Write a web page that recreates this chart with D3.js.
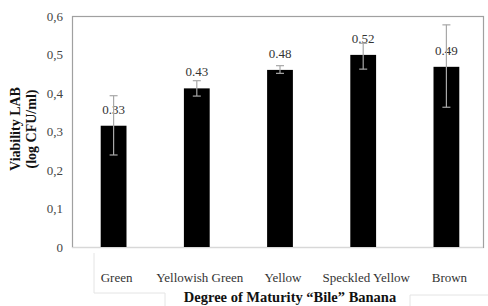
<!DOCTYPE html>
<html>
<head>
<meta charset="utf-8">
<script src="https://cdn.jsdelivr.net/npm/d3@7"></script>
<style>
  body { margin: 0; background: #fff; }
  svg { display: block; font-family: "Liberation Serif", serif; }
</style>
</head>
<body>
<div id="vis"></div>
<script>
const FRAME_WIDTH = 488;
const FRAME_HEIGHT = 306;
const SERIF = "Liberation Serif, serif";

// data
const categories = ["Green", "Yellowish Green", "Yellow", "Speckled Yellow", "Brown"];
const means = [0.315, 0.412, 0.46, 0.499, 0.468];
const errLow = [0.239, 0.392, 0.451, 0.462, 0.363];
const errHigh = [0.393, 0.432, 0.471, 0.529, 0.577];
const valueLabels = ["0.33", "0.43", "0.48", "0.52", "0.49"];
const yTicks = [0, 0.1, 0.2, 0.3, 0.4, 0.5, 0.6];

const data = categories.map((c, i) => ({
  cat: c, v: means[i], lo: errLow[i], hi: errHigh[i], lab: valueLabels[i]
}));

const PLOT = {left: 72, right: 488, top: 16, bottom: 247};
const BOX_RIGHT = 483;

const svg = d3.select("#vis").append("svg")
    .attr("width", FRAME_WIDTH)
    .attr("height", FRAME_HEIGHT);

const X_SCALE = d3.scaleBand()
    .domain(categories)
    .range([PLOT.left, PLOT.right])
    .paddingInner(0.69)
    .paddingOuter(0.345);

const Y_SCALE = d3.scaleLinear()
    .domain([0, 0.6])
    .range([PLOT.bottom, PLOT.top]);

// faint boxes round the x labels (from the source layout)
svg.append("path")
    .attr("d", "M94,253 V293 H165 V306 M410,306 V295 H488")
    .attr("fill", "none").attr("stroke", "#e4e4e4").attr("stroke-width", 1);

// plot frame
svg.append("rect")
    .attr("x", PLOT.left + 0.5).attr("y", PLOT.top + 0.5)
    .attr("width", BOX_RIGHT - PLOT.left).attr("height", PLOT.bottom - PLOT.top)
    .attr("fill", "none").attr("stroke", "#a0a0a0").attr("stroke-width", 1.2);
svg.append("line")
    .attr("x1", PLOT.left).attr("x2", BOX_RIGHT)
    .attr("y1", PLOT.bottom + 0.5).attr("y2", PLOT.bottom + 0.5)
    .attr("stroke", "#d8d8d8");

// y axis
const yAxis = svg.append("g")
    .attr("transform", "translate(" + PLOT.left + ",0)")
    .call(d3.axisLeft(Y_SCALE).tickValues(yTicks).tickSize(0).tickPadding(9)
      .tickFormat(d => d3.format(".1~f")(d).replace(".", ",")))
    .attr("font-family", SERIF).attr("font-size", 13);
yAxis.select(".domain").remove();
yAxis.selectAll("text").attr("fill", "#444");

// bars
svg.selectAll("rect.bar")
    .data(data).enter().append("rect")
    .attr("class", "bar")
    .attr("x", d => X_SCALE(d.cat))
    .attr("width", X_SCALE.bandwidth())
    .attr("y", d => Y_SCALE(d.v))
    .attr("height", d => Y_SCALE(0) - Y_SCALE(d.v))
    .attr("fill", "#000");

// value labels
svg.selectAll("text.val")
    .data(data).enter().append("text")
    .attr("class", "val")
    .attr("x", d => X_SCALE(d.cat) + X_SCALE.bandwidth() / 2)
    .attr("y", d => Y_SCALE(d.v) - 12)
    .attr("text-anchor", "middle")
    .attr("font-family", SERIF)
    .attr("font-size", 13).attr("fill", "#333")
    .text(d => d.lab);

// error bars
const eb = svg.selectAll("g.err").data(data).enter().append("g")
    .attr("class", "err")
    .attr("stroke", "#a8a8a8").attr("stroke-width", 1.2);
const cx = d => X_SCALE(d.cat) + X_SCALE.bandwidth() / 2;
eb.append("line")
    .attr("x1", cx).attr("x2", cx)
    .attr("y1", d => Y_SCALE(d.lo)).attr("y2", d => Y_SCALE(d.hi));
eb.append("line")
    .attr("x1", d => cx(d) - 4).attr("x2", d => cx(d) + 4)
    .attr("y1", d => Y_SCALE(d.lo)).attr("y2", d => Y_SCALE(d.lo));
eb.append("line")
    .attr("x1", d => cx(d) - 4).attr("x2", d => cx(d) + 4)
    .attr("y1", d => Y_SCALE(d.hi)).attr("y2", d => Y_SCALE(d.hi));

// x axis labels
const xAxis = svg.append("g")
    .attr("transform", "translate(3," + PLOT.bottom + ")")
    .call(d3.axisBottom(X_SCALE).tickSize(0).tickPadding(26))
    .attr("font-family", SERIF).attr("font-size", 13);
xAxis.select(".domain").remove();
xAxis.selectAll("text").attr("fill", "#333");

// axis titles
svg.append("text")
    .attr("x", 290).attr("y", 302)
    .attr("text-anchor", "middle")
    .attr("font-family", SERIF)
    .attr("font-weight", "bold").attr("font-size", 14.5).attr("fill", "#111")
    .text("Degree of Maturity \u201cBile\u201d Banana");

const yt = svg.append("text")
    .attr("transform", "translate(20,129) rotate(-90)")
    .attr("text-anchor", "middle")
    .attr("font-family", SERIF)
    .attr("font-weight", "bold").attr("font-size", 14).attr("fill", "#111");
yt.append("tspan").attr("x", 0).attr("dy", 0).text("Viability LAB");
yt.append("tspan").attr("x", 0).attr("dy", 16).text("(log CFU/ml)");
</script>
</body>
</html>
